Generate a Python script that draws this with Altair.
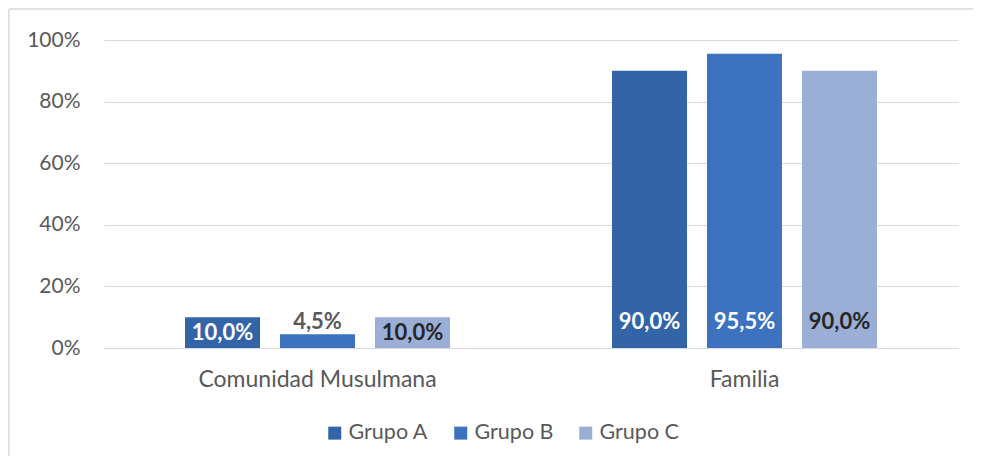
import altair as alt
import pandas as pd

categories = ["Comunidad Musulmana", "Familia"]
groups = ["Grupo A", "Grupo B", "Grupo C"]
grupo_a = [0.100, 0.900]
grupo_b = [0.045, 0.955]
grupo_c = [0.100, 0.900]
label_texts = {"Grupo A": ["10,0%", "90,0%"], "Grupo B": ["4,5%", "95,5%"], "Grupo C": ["10,0%", "90,0%"]}
colors = ["#3464A8", "#3C72BE", "#9AAED6"]
y_ticks = [0, 0.2, 0.4, 0.6, 0.8, 1.0]

rows = []
for g, vals in zip(groups, [grupo_a, grupo_b, grupo_c]):
    for i, c in enumerate(categories):
        rows.append({"categoria": c, "grupo": g, "valor": vals[i], "texto": label_texts[g][i]})
df = pd.DataFrame(rows)

FONT = "Lato"
GRAY = "#595959"

base = alt.Chart(df)

x_enc = alt.X("categoria:N", sort=categories, title=None,
              scale=alt.Scale(paddingInner=0, paddingOuter=0),
              axis=alt.Axis(labelAngle=0, labelFontSize=23, labelColor=GRAY, labelFont=FONT,
                            labelPadding=20, labelLimit=0, ticks=False,
                            domainColor="#D9D9D9", domainWidth=1))
xo_enc = alt.XOffset("grupo:N", sort=groups,
                     scale=alt.Scale(paddingInner=0.2105, paddingOuter=0.853))

bars = base.mark_bar().encode(
    x=x_enc,
    xOffset=xo_enc,
    y=alt.Y("valor:Q", title=None,
            scale=alt.Scale(domain=[0, 1]),
            axis=alt.Axis(values=y_ticks, format=".0%", labelFontSize=21, labelColor=GRAY,
                          labelFont=FONT, labelPadding=24, ticks=False, domain=False,
                          gridColor="#D9D9D9", gridWidth=1)),
    color=alt.Color("grupo:N", sort=groups,
                    scale=alt.Scale(domain=groups, range=colors),
                    legend=alt.Legend(title=None, orient="none", direction="horizontal",
                                      legendX=220, legendY=382, symbolType="square",
                                      symbolSize=169, symbolStrokeWidth=0,
                                      labelFontSize=21.5, labelColor=GRAY, labelFont=FONT,
                                      columnPadding=21, labelOffset=3)),
)

labels = base.transform_calculate(
    pos="datum.valor < 0.12 && datum.valor > 0.08 ? datum.valor / 2 : 0.083",
    lcolor="datum.valor < 0.08 ? '#595959' : (datum.grupo == 'Grupo C' ? '#262626' : '#FFFFFF')",
).mark_text(fontSize=22, fontWeight="bold", font=FONT, baseline="middle").encode(
    x=alt.X("categoria:N", sort=categories),
    xOffset=alt.XOffset("grupo:N", sort=groups),
    y=alt.Y("pos:Q"),
    text="texto:N",
    color=alt.Color("lcolor:N", scale=None),
)

frame_src = alt.Chart(pd.DataFrame({"a": [0]}))
frame_left = frame_src.mark_rule(color="#D9D9D9", strokeWidth=1.5).encode(
    x=alt.value(-95), y=alt.value(-31), y2=alt.value(420))
frame_top = frame_src.mark_rule(color="#D9D9D9", strokeWidth=1.5).encode(
    x=alt.value(-95), x2=alt.value(870), y=alt.value(-31))

chart = alt.layer(frame_left, frame_top, bars, labels).properties(
    width=854, height=308,
    autosize=alt.AutoSizeParams(type="none"),
    padding={"left": 96, "top": 32, "right": 15, "bottom": 108},
).configure_view(stroke=None).configure_axis(labelFont=FONT)

chart.save("out.html", embed_options={"renderer": "svg", "actions": False})
